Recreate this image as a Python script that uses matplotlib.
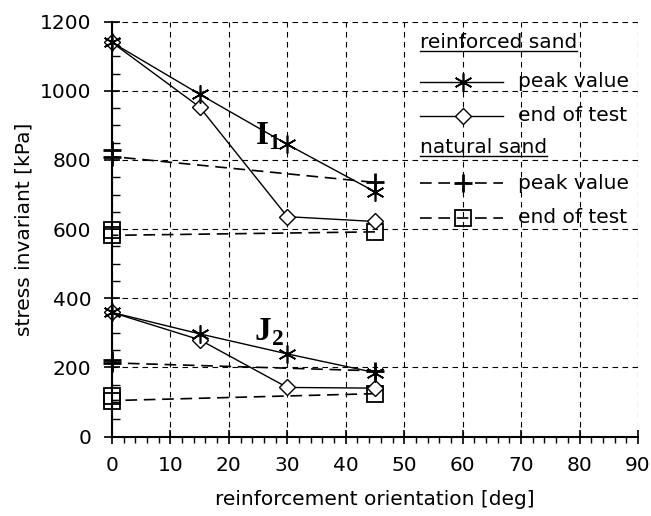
import matplotlib.pyplot as plt
from matplotlib.lines import Line2D

plt.rcParams['font.family'] = 'DejaVu Sans'
plt.rcParams['mathtext.fontset'] = 'custom'
plt.rcParams['mathtext.rm'] = 'Liberation Serif'
plt.rcParams['mathtext.bf'] = 'Liberation Serif:bold'

# reinforced sand, orientations 0/15/30/45 deg
angle = [0, 15, 30, 45]
i1_reinf_peak = [1140, 990, 845, 708]
i1_reinf_end = [1140, 953, 636, 622]
j2_reinf_peak = [359, 297, 239, 185]
j2_reinf_end = [359, 280, 142, 140]

# natural sand (two tests at 0 deg)
angle_nat = [0, 0, 45]
i1_nat_peak = [828, 810, 735]
i1_nat_end = [597, 582, 592]
j2_nat_peak = [220, 213, 190]
j2_nat_end = [118, 104, 124]

legend_groups = ['reinforced sand', 'natural sand']
legend_labels = ['peak value', 'end of test']

star = (6, 2, 0)
fs = 14.5

fig = plt.figure(figsize=(6.51, 5.16), dpi=100)
ax = fig.add_axes([0.172, 0.154, 0.808, 0.804])

peak_style = dict(color='k', lw=1, marker=star, ms=13, mew=1.2)
end_style = dict(color='k', lw=1, marker='D', ms=8, mfc='white', mew=1)
nat_peak_style = dict(color='k', lw=1.2, ls=(0, (7, 4)), marker='+', ms=13, mew=2)
nat_end_style = dict(color='k', lw=1.2, ls=(0, (7, 4)), marker='s', ms=11,
                     mfc='none', mew=1.3)

for y in (i1_nat_peak, j2_nat_peak):
    ax.plot(angle_nat, y, clip_on=False, **nat_peak_style)
for y in (i1_nat_end, j2_nat_end):
    ax.plot(angle_nat, y, clip_on=False, **nat_end_style)
for y in (i1_reinf_end, j2_reinf_end):
    ax.plot(angle, y, clip_on=False, **end_style)
for y in (i1_reinf_peak, j2_reinf_peak):
    ax.plot(angle, y, clip_on=False, **peak_style)

ax.text(26.6, 872, r'$\mathbf{I}_{\mathbf{1}}$', fontsize=24, ha='center', va='center')
ax.text(26.8, 305, r'$\mathbf{J}_{\mathbf{2}}$', fontsize=24, ha='center', va='center')

ax.set_xlim(0, 90)
ax.set_ylim(0, 1200)
ax.set_xticks(range(0, 91, 10))
ax.set_xticks(range(0, 91, 2), minor=True)
ax.set_yticks(range(0, 1201, 200))
ax.set_yticks(range(0, 1201, 50), minor=True)
ax.tick_params(axis='x', which='major', direction='inout', length=10, width=1.2,
               pad=9, labelsize=fs)
ax.tick_params(axis='x', which='minor', direction='out', length=4.5, width=1)
ax.tick_params(axis='y', which='major', direction='inout', length=11.5, width=1.2,
               pad=9, labelsize=fs)
ax.tick_params(axis='y', which='minor', direction='in', length=6, width=1)

for side in ('top', 'right'):
    ax.spines[side].set_visible(False)
for side in ('left', 'bottom'):
    ax.spines[side].set_linewidth(1.5)

ax.grid(which='major', color='k', lw=0.8, ls=(0, (5, 4)))

ax.set_xlabel('reinforcement orientation [deg]', fontsize=fs, labelpad=11)
ax.set_ylabel('stress invariant [kPa]', fontsize=fs, labelpad=5)

# hand-made legend in axes fraction
lx0, lx1, lxm, tx = 0.586, 0.743, 0.667, 0.771
rows = [0.949, 0.855, 0.773, 0.696, 0.611, 0.527]
styles = [peak_style, end_style, nat_peak_style, nat_end_style]
headers = []
for g, group in enumerate(legend_groups):
    y_head = rows[3 * g]
    headers.append(ax.text(lx0, y_head, group, transform=ax.transAxes,
                           fontsize=fs, va='center', ha='left'))
    for k, label in enumerate(legend_labels):
        y = rows[3 * g + 1 + k]
        st = dict(styles[2 * g + k])
        ax.add_line(Line2D([lx0, lx1], [y, y], transform=ax.transAxes,
                           color=st['color'], lw=st['lw'], ls=st.get('ls', '-')))
        mk = dict(st)
        mk.pop('ls', None)
        ax.add_line(Line2D([lxm], [y], transform=ax.transAxes,
                           **{**mk, 'lw': 0}))
        ax.text(tx, y, label, transform=ax.transAxes, fontsize=fs,
                va='center', ha='left')

# underline the group headers
fig.canvas.draw()
inv = ax.transAxes.inverted()
for t in headers:
    bb = t.get_window_extent()
    (x0, y0), (x1, _) = inv.transform([(bb.x0, bb.y0 + 1), (bb.x1, bb.y0)])
    ax.add_line(Line2D([x0, x1], [y0, y0], transform=ax.transAxes,
                       color='k', lw=1))

fig.savefig('out.png', dpi=100)
